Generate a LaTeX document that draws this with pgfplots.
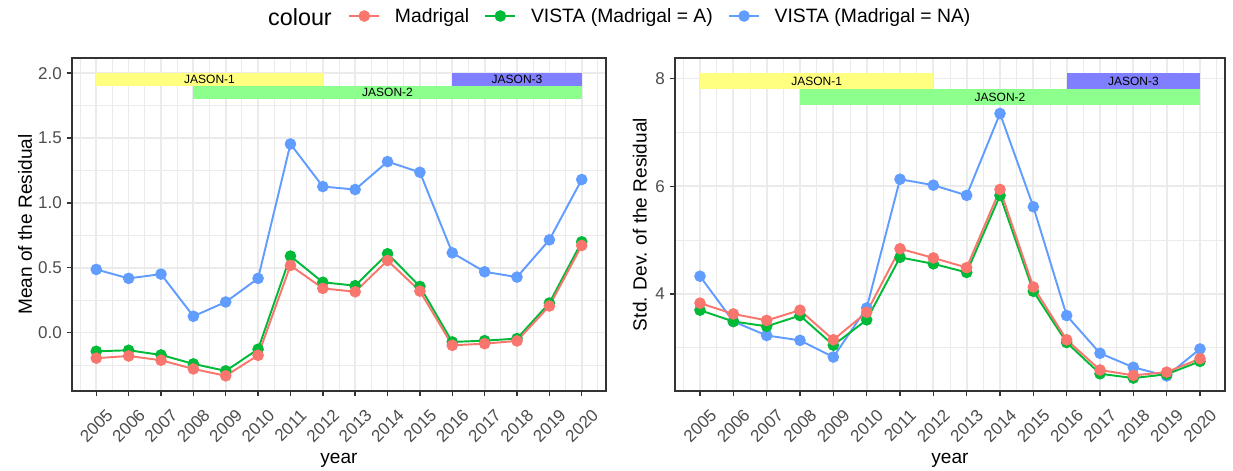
\documentclass[border=0pt]{standalone}
\usepackage{pgfplots}
\pgfplotsset{compat=1.18}
\usepackage{pgfplotstable}
\usepackage{fontspec}
\setmainfont{Liberation Sans}
\definecolor{cMad}{HTML}{F8766D}
\definecolor{cA}{HTML}{00BA38}
\definecolor{cNA}{HTML}{619CFF}
\definecolor{gridc}{HTML}{EBEBEB}
\definecolor{grey20}{HTML}{333333}
\definecolor{grey30}{HTML}{4D4D4D}
\definecolor{jy}{HTML}{FFFF80}
\definecolor{jg}{HTML}{8CFF8C}
\definecolor{jb}{HTML}{7F7FFF}

\pgfplotstableread{
year mad visA visNA
2005 -0.197 -0.144 0.487
2006 -0.180 -0.136 0.418
2007 -0.213 -0.172 0.451
2008 -0.280 -0.241 0.126
2009 -0.333 -0.295 0.236
2010 -0.175 -0.128 0.418
2011 0.518 0.590 1.454
2012 0.341 0.388 1.126
2013 0.315 0.362 1.103
2014 0.556 0.608 1.318
2015 0.320 0.356 1.236
2016 -0.098 -0.072 0.615
2017 -0.085 -0.062 0.469
2018 -0.064 -0.046 0.428
2019 0.205 0.228 0.715
2020 0.672 0.700 1.180
}\meantab

\pgfplotstableread{
year mad visA visNA
2005 3.83 3.70 4.33
2006 3.63 3.49 3.49
2007 3.51 3.40 3.23
2008 3.70 3.60 3.14
2009 3.15 3.05 2.83
2010 3.66 3.52 3.74
2011 4.84 4.68 6.13
2012 4.67 4.56 6.02
2013 4.49 4.40 5.83
2014 5.94 5.83 7.35
2015 4.13 4.05 5.62
2016 3.15 3.10 3.60
2017 2.59 2.52 2.90
2018 2.49 2.44 2.64
2019 2.55 2.51 2.48
2020 2.80 2.75 2.98
}\sdtab

\tikzset{
 ln/.style={line width=1.45pt, mark=*, mark size=3.6pt, mark options={solid}},
 jt/.style={font=\fontsize{9}{10}\selectfont, text=black},
}
\pgfplotsset{
 gg/.style={
  scale only axis, height=249.75pt,
  xmin=2004.25, xmax=2020.75,
  xtick={2005,2006,...,2020},
  minor xtick={2004.5,2005.5,...,2020.5},
  grid=both,
  major grid style={draw=gridc, line width=1.3pt},
  minor grid style={draw=gridc, line width=0.65pt},
  axis line style={draw=grey20, line width=1.1pt},
  tick align=outside, xtick pos=left, ytick pos=left,
  major tick length=4pt, minor tick length=0pt,
  major tick style={draw=grey20, line width=1.1pt},
  tick label style={font=\fontsize{12.8}{14}\selectfont, text=grey30},
  xticklabel style={yshift=-22pt, rotate=45, anchor=center, /pgf/number format/1000 sep=},
  xlabel={year},
  label style={font=\fontsize{14.3}{16}\selectfont},
  xlabel style={at={(axis description cs:0.5,-0.208)}, anchor=center},
  /pgf/number format/assume math mode=true,
 },
}

\begin{document}
\begin{tikzpicture}
\path[use as bounding box] (0,0) rectangle (924.75pt,353.25pt);
\node[font=\fontsize{17.5}{20}\selectfont, anchor=center] at (225pt,340.5pt) {colour};

\begin{axis}[gg, at={(54pt,60pt)}, anchor=south west, width=400.5pt,
  ymin=-0.45, ymax=2.117,
  ytick={0,0.5,1,1.5,2},
  minor ytick={-0.25,0.25,0.75,1.25,1.75},
  yticklabel style={/pgf/number format/.cd,fixed,fixed zerofill,precision=1},
  ylabel={Mean of the Residual},
  ylabel style={at={(axis description cs:-0.088,0.5)}, anchor=center},
  legend columns=-1,
  legend style={at={(axis description cs:0.517,1.126)}, anchor=west, draw=none, fill=none,
    font=\fontsize{14.5}{16}\selectfont, inner sep=0pt,
    /tikz/every odd column/.append style={column sep=9pt},
    /tikz/every even column/.append style={column sep=9.5pt}},
  legend image code/.code={\draw[mark repeat=2,mark phase=2,#1] plot coordinates {(0pt,0pt) (11.25pt,0pt) (22.5pt,0pt)};},
]
\addplot[fill=jy, draw=none, forget plot] coordinates {(2005,1.9) (2012,1.9) (2012,2.0) (2005,2.0)} -- cycle;
\addplot[fill=jb, draw=none, forget plot] coordinates {(2016,1.9) (2020,1.9) (2020,2.0) (2016,2.0)} -- cycle;
\addplot[fill=jg, draw=none, forget plot] coordinates {(2008,1.8) (2020,1.8) (2020,1.9) (2008,1.9)} -- cycle;
\node[jt] at (axis cs:2008.5,1.95) {JASON-1};
\node[jt] at (axis cs:2018,1.95) {JASON-3};
\node[jt] at (axis cs:2014,1.85) {JASON-2};
\addplot[ln, color=cNA, forget plot] table[x=year, y=visNA] {\meantab};
\addplot[ln, color=cA, forget plot] table[x=year, y=visA] {\meantab};
\addplot[ln, color=cMad, forget plot] table[x=year, y=mad] {\meantab};
\addlegendimage{ln, color=cMad}\addlegendentry{Madrigal}
\addlegendimage{ln, color=cA}\addlegendentry{VISTA (Madrigal = A)}
\addlegendimage{ln, color=cNA}\addlegendentry{VISTA (Madrigal = NA)}
\end{axis}

\begin{axis}[gg, at={(506.25pt,60pt)}, anchor=south west, width=412.5pt,
  ymin=2.2, ymax=8.38,
  ytick={4,6,8},
  minor ytick={3,5,7},
  ylabel={Std. Dev. of the Residual},
  ylabel style={at={(axis description cs:-0.064,0.5)}, anchor=center},
]
\addplot[fill=jy, draw=none] coordinates {(2005,7.8) (2012,7.8) (2012,8.1) (2005,8.1)} -- cycle;
\addplot[fill=jb, draw=none] coordinates {(2016,7.8) (2020,7.8) (2020,8.1) (2016,8.1)} -- cycle;
\addplot[fill=jg, draw=none] coordinates {(2008,7.5) (2020,7.5) (2020,7.8) (2008,7.8)} -- cycle;
\node[jt] at (axis cs:2008.5,7.95) {JASON-1};
\node[jt] at (axis cs:2018,7.95) {JASON-3};
\node[jt] at (axis cs:2014,7.65) {JASON-2};
\addplot[ln, color=cNA] table[x=year, y=visNA] {\sdtab};
\addplot[ln, color=cA] table[x=year, y=visA] {\sdtab};
\addplot[ln, color=cMad] table[x=year, y=mad] {\sdtab};
\end{axis}
\end{tikzpicture}
\end{document}
